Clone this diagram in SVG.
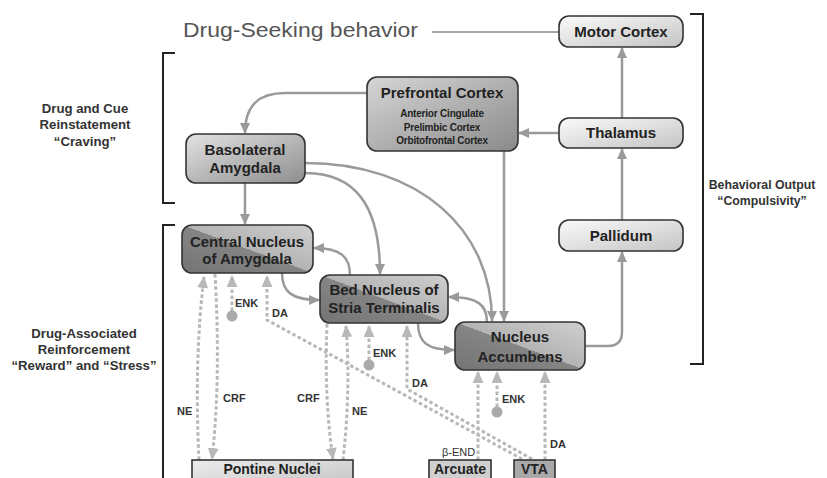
<svg xmlns="http://www.w3.org/2000/svg" width="827" height="478" viewBox="0 0 827 478">
<defs>
<linearGradient id="gLight" x1="0" y1="0" x2="1" y2="1"><stop offset="0" stop-color="#fbfbfb"/><stop offset="1" stop-color="#c4c4c4"/></linearGradient>
<linearGradient id="gMid" x1="0" y1="0" x2="1" y2="1"><stop offset="0" stop-color="#e2e2e2"/><stop offset="1" stop-color="#8e8e8e"/></linearGradient>
<linearGradient id="gPfc" x1="0" y1="0" x2="1" y2="1"><stop offset="0" stop-color="#d6d6d6"/><stop offset="1" stop-color="#8a8a8a"/></linearGradient>
<linearGradient id="gSplit" x1="1" y1="0" x2="0" y2="1"><stop offset="0" stop-color="#cfcfcf"/><stop offset="0.5" stop-color="#b4b4b4"/><stop offset="0.5" stop-color="#858585"/><stop offset="1" stop-color="#747474"/></linearGradient>
<linearGradient id="gPont" x1="0" y1="0" x2="1" y2="1"><stop offset="0" stop-color="#ececec"/><stop offset="1" stop-color="#c2c2c2"/></linearGradient>
<marker id="a" markerUnits="userSpaceOnUse" markerWidth="12" markerHeight="10" refX="10" refY="5" orient="auto"><path d="M0,0 L11,5 L0,10 z" fill="#9a9a9a"/></marker>
<marker id="d" markerUnits="userSpaceOnUse" markerWidth="13" markerHeight="11" refX="11" refY="5.5" orient="auto"><path d="M0,0 L12,5.5 L0,11 z" fill="#b8b8b8"/></marker>
<style>
.box{stroke:#333;stroke-width:1.6}
.t{font-family:"Liberation Sans",Arial,sans-serif;font-weight:bold;fill:#222;text-anchor:middle}
.big{font-size:15px}
.sub{font-size:10px;letter-spacing:-0.2px}
.lbl{font-family:"Liberation Sans",Arial,sans-serif;font-weight:bold;font-size:13.2px;fill:#333;text-anchor:middle}
.sm{font-family:"Liberation Sans",Arial,sans-serif;font-weight:bold;font-size:11px;fill:#333}
.c{fill:none;stroke:#9a9a9a;stroke-width:2.5;marker-end:url(#a)}
.dsh{fill:none;stroke:#b8b8b8;stroke-width:3;stroke-dasharray:3.5 2.5;marker-end:url(#d)}
.brk{fill:none;stroke:#222;stroke-width:2}
</style>
</defs>
<rect width="827" height="478" fill="#ffffff"/>

<g id="brackets">
<path class="brk" d="M175,53 H163 V203 H175"/>
<path class="brk" d="M175,225 H163 V480"/>
<path class="brk" d="M690,14 H703 V364 H690"/>
<text class="lbl" x="85" y="113">Drug and Cue</text>
<text class="lbl" x="85" y="129">Reinstatement</text>
<text class="lbl" x="85" y="146">“Craving”</text>
<text class="lbl" x="84" y="338">Drug-Associated</text>
<text class="lbl" x="84" y="354">Reinforcement</text>
<text class="lbl" x="84" y="370">“Reward” and “Stress”</text>
<text class="lbl" x="762" y="189" style="font-size:12.3px">Behavioral Output</text>
<text class="lbl" x="762" y="205" style="font-size:12.3px">“Compulsivity”</text>
<text x="183" y="37" style="font-family:'Liberation Sans',Arial,sans-serif;font-size:20px;fill:#555" textLength="235" lengthAdjust="spacingAndGlyphs">Drug-Seeking behavior</text>
</g>

<g id="connectors">
<path d="M432,32 H559" fill="none" stroke="#888" stroke-width="1.5"/>
<path class="c" d="M622,118 V48"/>
<path class="c" d="M559,133 H519"/>
<path class="c" d="M622,220 V149"/>
<path class="c" d="M585,346 H608 Q622,346 622,332 V252"/>
<path class="c" d="M504,151 V321"/>
<path class="c" d="M367,93 H285 C258,93 245,106 245,133"/>
<path class="c" d="M245,183 V224"/>
<path class="c" d="M305,173 C355,173 380,205 380,274"/>
<path class="c" d="M305,163 C420,163 492,230 492,321"/>
<path class="c" d="M350,275 C350,258 342,248 314,248"/>
<path class="c" d="M282,273 C282,292 292,300 319,300"/>
<path class="c" d="M487,322 C487,305 478,297 449,297"/>
<path class="c" d="M418,323 C418,343 428,350 454,350"/>

<path class="dsh" d="M199,460 Q194,360 204,277"/>
<path class="dsh" d="M215,274 Q221,380 212,459"/>
<path class="dsh" d="M232,311 V276"/>
<path class="dsh" d="M522,459 L267,320 V276"/>
<path class="dsh" d="M327,324 Q324,400 333,459"/>
<path class="dsh" d="M343,460 Q351,390 346,326"/>
<path class="dsh" d="M369,360 V326"/>
<path class="dsh" d="M532,459 L407,389 V326"/>
<path class="dsh" d="M478,460 V372"/>
<path class="dsh" d="M497,407 V372"/>
<path class="dsh" d="M545,460 V372"/>
<circle cx="232" cy="316" r="5.5" fill="#aaaaaa"/>
<circle cx="369" cy="365" r="5.5" fill="#aaaaaa"/>
<circle cx="497" cy="412" r="5.5" fill="#aaaaaa"/>
<text class="sm" x="177" y="415">NE</text>
<text class="sm" x="223" y="402">CRF</text>
<text class="sm" x="235" y="307">ENK</text>
<text class="sm" x="272" y="317">DA</text>
<text class="sm" x="297" y="402">CRF</text>
<text class="sm" x="352" y="415">NE</text>
<text class="sm" x="373" y="357">ENK</text>
<text class="sm" x="412" y="387">DA</text>
<text class="sm" x="502" y="403">ENK</text>
<text class="sm" x="550" y="448">DA</text>
<text class="sm" x="442" y="456" style="font-weight:normal">β-END</text>
</g>

<g id="motor-cortex">
<rect class="box" x="559" y="16" width="124" height="31" rx="10" fill="url(#gLight)"/>
<text class="t big" x="621" y="37">Motor Cortex</text>
</g>
<g id="thalamus">
<rect class="box" x="559" y="118" width="124" height="30" rx="10" fill="url(#gLight)"/>
<text class="t big" x="621" y="138">Thalamus</text>
</g>
<g id="pallidum">
<rect class="box" x="559" y="220" width="124" height="31" rx="10" fill="url(#gLight)"/>
<text class="t big" x="621" y="241">Pallidum</text>
</g>
<g id="prefrontal-cortex">
<rect class="box" x="367" y="77" width="151" height="74" rx="10" fill="url(#gPfc)"/>
<text class="t big" x="442" y="98">Prefrontal Cortex</text>
<text class="t sub" x="442" y="117">Anterior Cingulate</text>
<text class="t sub" x="442" y="131">Prelimbic Cortex</text>
<text class="t sub" x="442" y="144">Orbitofrontal Cortex</text>
</g>
<g id="basolateral-amygdala">
<rect class="box" x="186" y="134" width="119" height="49" rx="10" fill="url(#gMid)"/>
<text class="t big" x="245" y="155">Basolateral</text>
<text class="t big" x="245" y="173">Amygdala</text>
</g>
<g id="central-nucleus-amygdala">
<rect class="box" x="182" y="225" width="131" height="48" rx="10" fill="url(#gSplit)"/>
<text class="t big" x="247" y="247">Central Nucleus</text>
<text class="t big" x="247" y="264">of Amygdala</text>
</g>
<g id="bed-nucleus">
<rect class="box" x="320" y="275" width="128" height="48" rx="10" fill="url(#gSplit)"/>
<text class="t big" x="384" y="295">Bed Nucleus of</text>
<text class="t big" x="384" y="313">Stria Terminalis</text>
</g>
<g id="nucleus-accumbens">
<rect class="box" x="455" y="322" width="130" height="48" rx="10" fill="url(#gSplit)"/>
<text class="t big" x="520" y="342">Nucleus</text>
<text class="t big" x="520" y="362">Accumbens</text>
</g>
<g id="pontine-nuclei">
<rect class="box" x="192" y="460" width="161" height="30" fill="url(#gPont)"/>
<text class="t" x="272" y="474" style="font-size:14px">Pontine Nuclei</text>
</g>
<g id="arcuate">
<rect class="box" x="429" y="460" width="62" height="26" fill="#cfcfcf"/>
<text class="t" x="460" y="474" style="font-size:14px">Arcuate</text>
</g>
<g id="vta">
<rect class="box" x="514" y="460" width="41" height="26" fill="#a9a9a9"/>
<text class="t" x="534.5" y="474" style="font-size:14px">VTA</text>
</g>
</svg>
